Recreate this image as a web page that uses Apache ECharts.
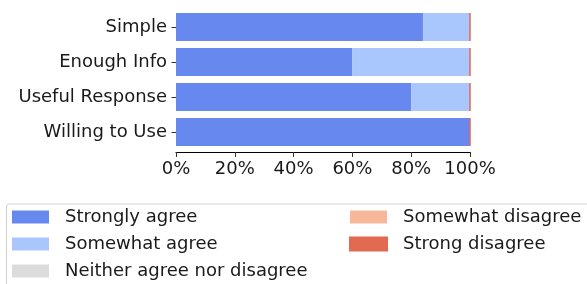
<!DOCTYPE html>
<html>
<head>
<meta charset="utf-8">
<script src="https://cdn.jsdelivr.net/npm/echarts@6/dist/echarts.min.js"></script>
<style>
html, body { margin: 0; padding: 0; background: #fff; }
#main { width: 587px; height: 284px; }
</style>
</head>
<body>
<div id="main"></div>
<script>
var categories = ['Simple', 'Enough Info', 'Useful Response', 'Willing to Use'];
var seriesNames = ['Strongly agree', 'Somewhat agree', 'Neither agree nor disagree', 'Somewhat disagree', 'Strong disagree'];
var stronglyAgree = [84, 60, 80, 100];
var somewhatAgree = [16, 40, 20, 0];
var neither = [0, 0, 0, 0];
var somewhatDisagree = [0, 0, 0, 0];
var strongDisagree = [0, 0, 0, 0];
var colors = ['#6788ee', '#aac7fd', '#dddcdc', '#f6b79a', '#e26952'];
var xTicks = [0, 20, 40, 60, 80, 100];

var values = [stronglyAgree, somewhatAgree, neither, somewhatDisagree, strongDisagree];
var font = 'DejaVu Sans';

var series = [];
for (var i = 0; i < seriesNames.length; i++) {
    var s = {
        name: seriesNames[i],
        type: 'bar',
        stack: 'total',
        barWidth: '80%',
        itemStyle: { color: colors[i] },
        data: values[i]
    };
    // last segment leaves a hairline edge at the bar end
    if (i == seriesNames.length - 1) {
        s.itemStyle.borderColor = colors[i];
        s.itemStyle.borderWidth = 1;
    }
    series.push(s);
}

var legendText = { fontFamily: font, fontSize: 18, color: '#1a1a1a', padding: [0, 0, 0, 11] };

var chart = echarts.init(document.getElementById('main'));
chart.setOption({
    animation: false,
    color: colors,
    textStyle: { fontFamily: font },
    grid: { left: 176, right: 117, top: 9.5, height: 140 },
    xAxis: {
        type: 'value',
        min: xTicks[0],
        max: xTicks[xTicks.length - 1],
        interval: 20,
        offset: 2.5,
        axisLine: { show: true, lineStyle: { color: '#000', width: 1.2 } },
        axisTick: { show: true, length: 5, lineStyle: { color: '#333' } },
        axisLabel: { formatter: '{value}%', fontSize: 18, color: '#1a1a1a', margin: 8 },
        splitLine: { show: false }
    },
    yAxis: {
        type: 'category',
        inverse: true,
        data: categories,
        axisLine: { show: false },
        axisTick: { show: true, length: 4.5, alignWithLabel: true, lineStyle: { color: '#333' } },
        axisLabel: { fontSize: 18, color: '#1a1a1a', margin: 9 }
    },
    legend: [{
        orient: 'vertical',
        left: 12,
        top: 208,
        padding: 0,
        icon: 'rect',
        itemWidth: 37,
        itemHeight: 13,
        itemGap: 9,
        selectedMode: false,
        textStyle: legendText,
        data: seriesNames.slice(0, 3)
    }, {
        orient: 'vertical',
        left: 349,
        top: 208,
        padding: 0,
        icon: 'rect',
        itemWidth: 37,
        itemHeight: 13,
        itemGap: 9,
        selectedMode: false,
        textStyle: legendText,
        data: seriesNames.slice(3)
    }],
    graphic: [{
        type: 'rect',
        left: 4,
        top: 201.5,
        shape: { width: 600, height: 100, r: 3 },
        style: { fill: 'none', stroke: '#d0d0d0', lineWidth: 1 },
        z: -1
    }],
    series: series
});
</script>
</body>
</html>
